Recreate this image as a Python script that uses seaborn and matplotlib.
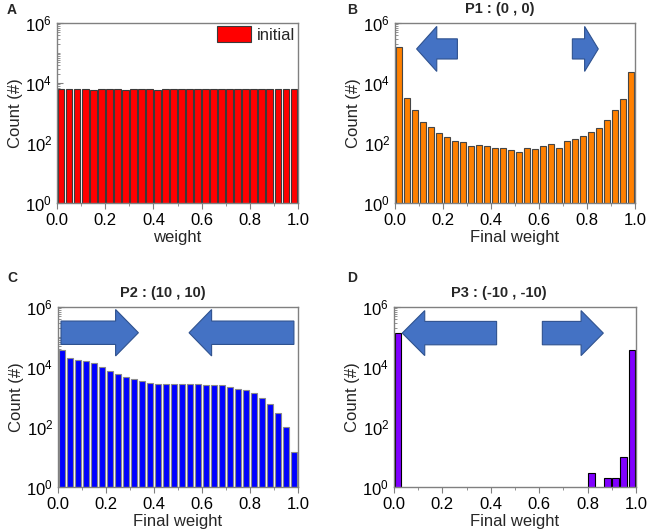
import numpy as np
import pandas as pd
import matplotlib
matplotlib.use("Agg")
import matplotlib.pyplot as plt
import matplotlib.ticker as mticker
from matplotlib.patches import FancyArrow
import seaborn as sns

# 30 bins over [0, 1]
n_bins = 30
centers = (np.arange(n_bins) + 0.5) / n_bins

# counts (log scale)
counts_initial = [6170, 6170, 6170, 6170, 5720, 6170, 6170, 6170, 5720, 6170,
                  6170, 6170, 5900, 6170, 6170, 6170, 6170, 6170, 6170, 6170,
                  6170, 6170, 6300, 6170, 6170, 6170, 6170, 6170, 6170, 6170]
counts_p1 = [157000, 3240, 1290, 510, 333, 214, 162, 116, 105, 81,
             83, 77, 66, 66, 58, 50, 67, 65, 77, 92,
             67, 116, 132, 170, 225, 316, 585, 1290, 2940, 24000]
counts_p2 = [36000, 20500, 17700, 15800, 14000, 9800, 7600, 5900, 4650, 3900,
             3400, 3000, 2800, 2800, 2800, 2750, 2750, 2650, 2600, 2550,
             2450, 2150, 1900, 1660, 1400, 925, 600, 285, 100, 15]
counts_p3 = [136000, 0, 0, 0, 0, 0, 0, 0, 0, 0,
             0, 0, 0, 0, 0, 0, 0, 0, 0, 0,
             0, 0, 0, 0, 3, 0, 2, 2, 10, 38000]

sns.set_style("ticks")
plt.rcParams['font.family'] = ['Liberation Sans', 'DejaVu Sans']
plt.rcParams['mathtext.fontset'] = 'custom'
plt.rcParams['mathtext.rm'] = 'Liberation Sans'
plt.rcParams['mathtext.it'] = 'Liberation Sans:italic'
plt.rcParams['mathtext.bf'] = 'Liberation Sans:bold'

fig = plt.figure(figsize=(6.49, 5.31), dpi=100)
W, H = 649, 531


def make_ax(left, right, top, bottom):
    return fig.add_axes([left / W, 1 - bottom / H, (right - left) / W, (bottom - top) / H])


ax_a = make_ax(57, 298, 23, 203)
ax_b = make_ax(395, 635, 23, 203)
ax_c = make_ax(58, 298, 307, 487)
ax_d = make_ax(394, 636, 307, 487)

panels = [
    (ax_a, counts_initial, "#ff0000", "#3a3a3a", "weight", None, "A"),
    (ax_b, counts_p1, "#ff8000", "#454545", "Final weight", "P1 : (0 , 0)", "B"),
    (ax_c, counts_p2, "#0000ff", "#8a8a8a", "Final weight", "P2 : (10 , 10)", "C"),
    (ax_d, counts_p3, "#8000ff", "#000000", "Final weight", "P3 : (-10 , -10)", "D"),
]

for ax, counts, color, ec, xlabel, title, letter in panels:
    df = pd.DataFrame({"weight": centers, "count": counts})
    df = df[df["count"] > 0]
    kws = {"label": "initial"} if letter == "A" else {}
    sns.histplot(data=df, x="weight", weights="count", binwidth=1 / n_bins,
                 binrange=(0, 1), ax=ax, color=color, edgecolor=ec,
                 linewidth=0.8, alpha=1, shrink=0.85, **kws)
    ax.set_yscale("log")
    ax.set_ylim(1, 1e6)
    ax.set_xlim(0, 1)
    ax.set_yticks([1, 1e2, 1e4, 1e6])
    ax.yaxis.set_minor_locator(mticker.LogLocator(base=10, subs=np.arange(1, 10), numticks=20))
    ax.yaxis.set_minor_formatter(mticker.NullFormatter())
    ax.set_xticks(np.arange(0, 1.01, 0.2))
    ax.xaxis.set_major_formatter(mticker.FormatStrFormatter("%.1f"))
    ax.xaxis.set_minor_locator(mticker.MultipleLocator(0.1))
    ax.tick_params(axis="y", which="both", direction="in", colors="#808080",
                   labelcolor="black", labelsize=12)
    ax.tick_params(axis="y", which="major", length=4)
    ax.tick_params(axis="y", which="minor", length=2)
    ax.tick_params(axis="x", which="both", direction="out", colors="#808080",
                   labelcolor="black", labelsize=12)
    ax.tick_params(axis="x", which="major", length=4)
    ax.tick_params(axis="x", which="minor", length=2)
    for sp in ax.spines.values():
        sp.set_visible(True)
        sp.set_color("#808080")
        sp.set_linewidth(1.0)
    ax.set_xlabel(xlabel, fontsize=12, labelpad=1)
    ax.set_ylabel("Count (#)", fontsize=12, labelpad=2)
    if title:
        ax.text(0.435, 1.075, title, transform=ax.transAxes, ha="center",
                va="center", fontsize=10.5, fontweight="bold")

# panel letters
for letter, (x, y) in zip("ABCD", [(7, 10), (347, 10), (7, 278), (347, 278)]):
    fig.text(x / W, 1 - y / H, letter, fontsize=10, fontweight="bold",
             ha="left", va="center")

ax_a.legend(loc="upper right", frameon=False, fontsize=12, handlelength=2.0,
            handleheight=1.1, borderaxespad=0.0, borderpad=0.2, handletextpad=0.35)

# block arrows (axes coordinates)
arrow_style = dict(facecolor="#4472c4", edgecolor="#2f528f", linewidth=0.8,
                   length_includes_head=True, zorder=5, clip_on=False)
arrows = [
    (ax_b, 0.26, 0.856, -0.17, 0.112, 0.25, 0.084),
    (ax_b, 0.739, 0.856, 0.108, 0.112, 0.25, 0.057),
    (ax_c, 0.0125, 0.857, 0.3225, 0.13, 0.258, 0.095),
    (ax_c, 0.983, 0.857, -0.437, 0.13, 0.258, 0.094),
    (ax_d, 0.424, 0.855, -0.39, 0.13, 0.25, 0.093),
    (ax_d, 0.613, 0.855, 0.252, 0.13, 0.25, 0.092),
]
for ax, x, y, dx, w, hw, hl in arrows:
    ax.add_patch(FancyArrow(x, y, dx, 0, width=w, head_width=hw, head_length=hl,
                            transform=ax.transAxes, **arrow_style))

fig.savefig("out.png", dpi=100)
